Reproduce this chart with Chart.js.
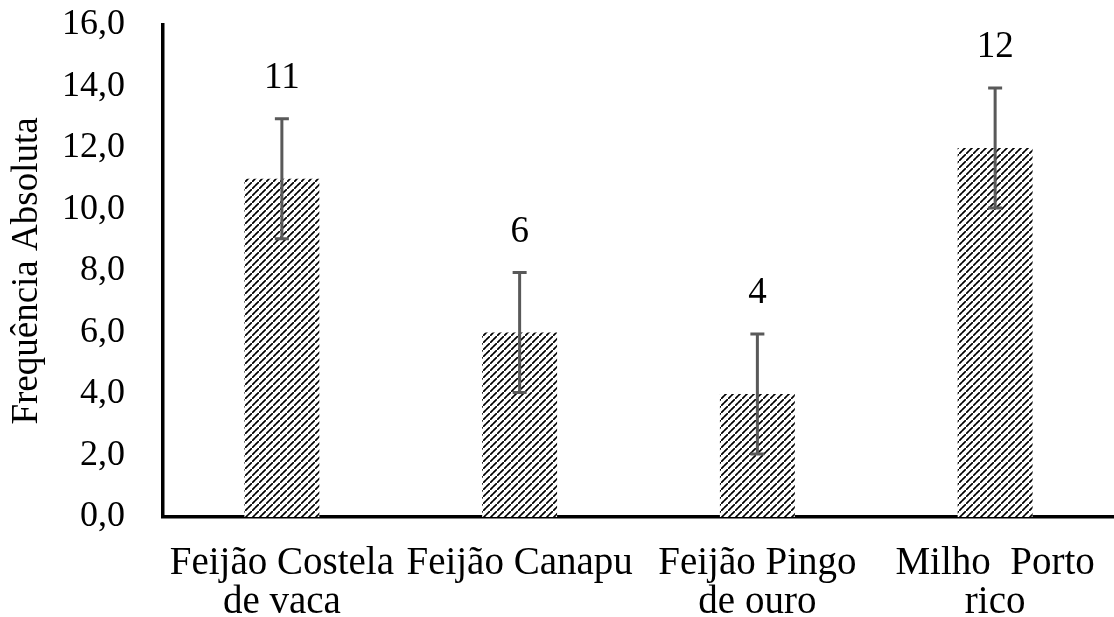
<!DOCTYPE html>
<html>
<head>
<meta charset="utf-8">
<script src="https://cdn.jsdelivr.net/npm/chart.js@4.4.0/dist/chart.umd.min.js"></script>
<style>
  html, body { margin: 0; padding: 0; background: #fff; }
  #wrap { width: 1114px; height: 617px; }
</style>
</head>
<body>
<div id="wrap"><canvas id="chart" width="1114" height="617"></canvas></div>
<script>
const categories = [
  ['Feijão Costela', 'de vaca'],
  ['Feijão Canapu'],
  ['Feijão Pingo', 'de ouro'],
  ['Milho  Porto', 'rico']
];
const values = [11, 6, 4, 12];
const errors = [1.95, 1.95, 1.95, 1.95];
const yTicks = [0, 2, 4, 6, 8, 10, 12, 14, 16];

// diagonal dashed hatch like the original fill
function makeHatch() {
  const c = document.createElement('canvas');
  c.width = 7; c.height = 7;
  const g = c.getContext('2d');
  g.fillStyle = '#fff';
  g.fillRect(0, 0, 7, 7);
  g.strokeStyle = '#000';
  g.lineWidth = 1.7;
  g.lineCap = 'round';
  g.beginPath();
  g.moveTo(-0.5, 7.5); g.lineTo(2.8, 4.2);
  g.moveTo(3.8, 3.2); g.lineTo(7.5, -0.5);
  g.stroke();
  return g.createPattern(c, 'repeat');
}

const errorBars = {
  id: 'errorBars',
  afterDatasetsDraw(chart) {
    const ctx = chart.ctx;
    const y = chart.scales.y;
    const meta = chart.getDatasetMeta(0);
    ctx.save();
    meta.data.forEach((bar, i) => {
      const top = y.getPixelForValue(values[i] + errors[i]);
      const bot = y.getPixelForValue(values[i] - errors[i]);
      ctx.strokeStyle = '#595959';
      ctx.lineWidth = 3;
      ctx.beginPath();
      ctx.moveTo(bar.x, top); ctx.lineTo(bar.x, bot);
      ctx.moveTo(bar.x - 7, top); ctx.lineTo(bar.x + 7, top);
      ctx.moveTo(bar.x - 7, bot); ctx.lineTo(bar.x + 7, bot);
      ctx.stroke();
      ctx.fillStyle = '#000';
      ctx.font = '37px "Liberation Serif"';
      ctx.textAlign = 'center';
      ctx.textBaseline = 'alphabetic';
      ctx.fillText(String(values[i]), bar.x, top - 31);
    });
    ctx.restore();
  }
};

new Chart(document.getElementById('chart'), {
  type: 'bar',
  data: {
    labels: categories,
    datasets: [{
      data: values,
      backgroundColor: makeHatch(),
      borderWidth: 0,
      barPercentage: 0.63,
      categoryPercentage: 0.5
    }]
  },
  options: {
    responsive: false,
    animation: false,
    layout: { padding: { top: 25, right: 0, left: 0, bottom: 0 } },
    plugins: { legend: { display: false }, tooltip: { enabled: false } },
    scales: {
      x: {
        grid: { display: false },
        border: { color: '#000', width: 3.5 },
        afterFit(axis) { axis.height = 100; axis.paddingLeft = 0; axis.paddingRight = 0; },
        ticks: {
          color: '#000',
          autoSkip: false,
          maxRotation: 0,
          padding: 20,
          font: { family: 'Liberation Serif', size: 39, lineHeight: 0.98 }
        }
      },
      y: {
        min: 0, max: 16,
        afterBuildTicks(axis) { axis.ticks = yTicks.map(v => ({ value: v })); },
        afterFit(axis) { axis.width = 163; axis.paddingTop = 0; axis.paddingBottom = 0; },
        grid: { display: false },
        border: { color: '#000', width: 3.5 },
        ticks: {
          color: '#000',
          padding: 30,
          font: { family: 'Liberation Serif', size: 36 },
          callback: v => v.toFixed(1).replace('.', ',')
        },
        title: {
          display: true,
          text: 'Frequência Absoluta',
          color: '#000',
          padding: { top: 5, bottom: 0 },
          font: { family: 'Liberation Serif', size: 37 }
        }
      }
    }
  },
  plugins: [errorBars]
});
</script>
</body>
</html>
